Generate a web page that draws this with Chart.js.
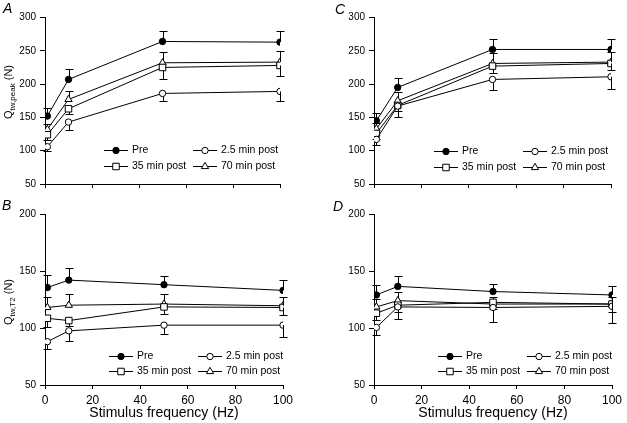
<!DOCTYPE html>
<html><head><meta charset="utf-8">
<script src="https://cdn.jsdelivr.net/npm/chart.js@4"></script>
<style>
html,body{margin:0;padding:0;background:#fff;}
#wrap{position:relative;width:627px;height:423px;overflow:hidden;background:#fff;}
.p{position:absolute;}
</style></head><body>
<div id="wrap">
<div class="p" style="left:0;top:0;"><canvas id="cA" width="313" height="200"></canvas></div>
<div class="p" style="left:313px;top:0;"><canvas id="cC" width="314" height="200"></canvas></div>
<div class="p" style="left:0;top:200px;"><canvas id="cB" width="313" height="223"></canvas></div>
<div class="p" style="left:313px;top:200px;"><canvas id="cD" width="314" height="223"></canvas></div>
</div>
<script>
// ---------- data ----------
const frequencies = [1, 10, 50, 100];
const seriesNames = ['Pre', '2.5 min post', '35 min post', '70 min post'];
const xTicks = [0, 20, 40, 60, 80, 100];
const yTicksPeak = [50, 100, 150, 200, 250, 300];
const yTicksT2 = [50, 100, 150, 200];
const xTitle = 'Stimulus frequency (Hz)';

// Panel A (peak)
const preA = [152, 207, 264, 263];
const post25A = [106, 143, 186, 189];
const post35A = [124, 163, 225, 228];
const post70A = [132, 177, 232, 233];
const errPreA = [12, 15, 16, 17];
const errPost25A = [7, 12, 12, 14];
const errPost35A = [8, 8, 17, 16];
const errPost70A = [8, 12, 16, 17];

// Panel B (T2)
const preB = [135.5, 142, 138, 133];
const post25B = [88, 97.5, 102.5, 102.5];
const post35B = [108.5, 106.5, 118.5, 118];
const post70B = [118, 120, 121, 119.5];
const errPreB = [11, 11, 8, 9];
const errPost25B = [6, 9, 8, 10];
const errPost35B = [7.5, 5, 6, 7];
const errPost70B = [9, 10, 9, 8];

// Panel C (peak)
const preC = [145, 195, 252, 252];
const post25C = [117, 167, 207, 211];
const post35C = [126, 168, 227, 231];
const post70C = [133, 175, 231, 233];
const errPreC = [11, 14, 16, 16];
const errPost25C = [9, 16, 16, 18];
const errPost35C = [8, 8, 10, 10];
const errPost70C = [8, 13, 15, 15];

// Panel D (T2)
const preD = [129, 136.5, 132, 129];
const post25D = [100.5, 118.5, 118, 119];
const post35D = [113, 120, 122.5, 121];
const post70D = [118.5, 124, 121, 121];
const errPreD = [9, 9, 7, 8];
const errPost25D = [7, 11, 13, 15];
const errPost35D = [6, 6, 6, 7];
const errPost70D = [7, 8, 6, 6];

// ---------- styles ----------
const FONT = '"Liberation Sans", Arial, Helvetica, sans-serif';
const markerStyles = [
  {pointStyle: 'circle', radius: 3.2, fill: '#000'},
  {pointStyle: 'circle', radius: 3.2, fill: '#fff'},
  {pointStyle: 'rect', radius: 4.6, fill: '#fff'},
  {pointStyle: 'triangle', radius: 4.2, fill: '#fff'}
];
const errDirs = [1, -1, -1, 1];

function makeDatasets(values, errs) {
  return values.map((vals, i) => ({
    label: seriesNames[i],
    data: vals.map((v, j) => ({x: frequencies[j], y: v})),
    errors: errs[i],
    errDir: errDirs[i],
    borderColor: '#000',
    borderWidth: 1,
    backgroundColor: markerStyles[i].fill,
    pointStyle: markerStyles[i].pointStyle,
    pointRadius: markerStyles[i].radius,
    pointBorderWidth: 1,
    pointBorderColor: '#000',
    pointBackgroundColor: markerStyles[i].fill,
    pointHoverRadius: markerStyles[i].radius,
    fill: false,
    tension: 0
  }));
}

const errorBarPlugin = {
  id: 'errbars',
  beforeDatasetsDraw(chart) {
    const ctx = chart.ctx, ys = chart.scales.y;
    ctx.save();
    ctx.strokeStyle = '#000';
    ctx.lineWidth = 1;
    chart.data.datasets.forEach((ds, i) => {
      const meta = chart.getDatasetMeta(i);
      meta.data.forEach((pt, j) => {
        const e = ds.errors && ds.errors[j];
        if (!e) return;
        const yEnd = ys.getPixelForValue(ds.data[j].y + ds.errDir * e);
        const x = Math.round(pt.x) + 0.5;
        const ye = Math.round(yEnd) + 0.5;
        ctx.beginPath();
        ctx.moveTo(x, pt.y);
        ctx.lineTo(x, ye);
        ctx.moveTo(x - 4, ye);
        ctx.lineTo(x + 4, ye);
        ctx.stroke();
      });
    });
    ctx.restore();
  }
};

const decorPlugin = {
  id: 'decor',
  afterDraw(chart) {
    const o = chart.options.plugins.decor;
    const ctx = chart.ctx, a = chart.chartArea;
    ctx.save();
    // panel letter
    ctx.fillStyle = '#000';
    ctx.font = 'italic 14px ' + FONT;
    ctx.textBaseline = 'alphabetic';
    ctx.textAlign = 'left';
    ctx.fillText(o.letter, o.letterX, o.letterY);
    // legend
    chart.data.datasets.forEach((ds, i) => {
      const col = i % 2, row = Math.floor(i / 2);
      const x0 = a.left + o.legCols[col];
      const y = Math.round(a.bottom - o.legRows[row]) + 0.5;
      ctx.strokeStyle = '#000';
      ctx.lineWidth = 1;
      ctx.beginPath();
      ctx.moveTo(x0, y);
      ctx.lineTo(x0 + 24, y);
      ctx.stroke();
      ctx.fillStyle = markerStyles[i].fill;
      Chart.helpers.drawPoint(ctx, {pointStyle: markerStyles[i].pointStyle, radius: markerStyles[i].radius, borderWidth: 1, rotation: 0}, x0 + 12, y);
      ctx.fillStyle = '#000';
      ctx.font = '10.5px ' + FONT;
      ctx.textBaseline = 'middle';
      ctx.fillText(ds.label, x0 + 28, y);
    });
    // y title with subscript
    if (o.yTitle) {
      ctx.translate(o.yTitleX, o.yTitleY);
      ctx.rotate(-Math.PI / 2);
      ctx.textBaseline = 'alphabetic';
      ctx.fillStyle = '#000';
      const big = '11px ' + FONT, small = '8px ' + FONT;
      ctx.font = big; const w1 = ctx.measureText('Q').width;
      ctx.font = small; const w2 = ctx.measureText(o.yTitle[0]).width;
      ctx.font = big; const w3 = ctx.measureText(' (N)').width;
      let x = -(w1 + w2 + w3) / 2;
      ctx.font = big; ctx.fillText('Q', x, 0); x += w1;
      ctx.font = small; ctx.fillText(o.yTitle[0], x, 2.5); x += w2;
      ctx.font = big; ctx.fillText(' (N)', x, 0);
    }
    ctx.restore();
  }
};

function makePanel(id, cfg) {
  const cv = document.getElementById(id);
  const W = cv.width, H = cv.height;
  return new Chart(cv, {
    type: 'line',
    data: {datasets: makeDatasets(cfg.values, cfg.errs)},
    plugins: [errorBarPlugin, decorPlugin],
    options: {
      responsive: false,
      animation: false,
      events: [],
      layout: {padding: {left: 0, top: cfg.area.top, right: W - cfg.area.right, bottom: 0}},
      plugins: {
        legend: {display: false},
        tooltip: {enabled: false},
        decor: cfg.decor
      },
      scales: {
        x: {
          type: 'linear', min: 0, max: 100,
          afterBuildTicks: s => { s.ticks = xTicks.map(v => ({value: v})); },
          afterFit: s => { s.height = H - cfg.area.bottom; },
          grid: {drawOnChartArea: false, drawTicks: true, tickLength: 4, color: '#000', lineWidth: 1},
          border: {display: true, color: '#000', width: 1},
          ticks: {display: cfg.showX, color: '#000', font: {size: 12, family: FONT}, padding: 4, maxRotation: 0},
          title: {display: cfg.showX, text: xTitle, color: '#000', font: {size: 14, family: FONT}, padding: {top: 0, bottom: 1}}
        },
        y: {
          type: 'linear', min: cfg.yTicks[0], max: cfg.yTicks[cfg.yTicks.length - 1],
          afterBuildTicks: s => { s.ticks = cfg.yTicks.map(v => ({value: v})); },
          afterFit: s => { s.width = cfg.area.left; },
          grid: {drawOnChartArea: false, drawTicks: true, tickLength: 5, color: '#000', lineWidth: 1},
          border: {display: true, color: '#000', width: 1},
          ticks: {color: '#000', font: {size: 10, family: FONT}, padding: 4}
        }
      }
    }
  });
}

makePanel('cA', {
  values: [preA, post25A, post35A, post70A],
  errs: [errPreA, errPost25A, errPost35A, errPost70A],
  yTicks: yTicksPeak, showX: false,
  area: {left: 45, right: 280, top: 17.5, bottom: 184},
  decor: {letter: 'A', letterX: 3, letterY: 13, legCols: [59, 148], legRows: [34, 18], yTitle: ['tw,peak'], yTitleX: 12, yTitleY: 92}
});
makePanel('cC', {
  values: [preC, post25C, post35C, post70C],
  errs: [errPreC, errPost25C, errPost35C, errPost70C],
  yTicks: yTicksPeak, showX: false,
  area: {left: 61, right: 298, top: 17.5, bottom: 184},
  decor: {letter: 'C', letterX: 22, letterY: 14, legCols: [60, 149], legRows: [33.5, 17.5], yTitle: null}
});
makePanel('cB', {
  values: [preB, post25B, post35B, post70B],
  errs: [errPreB, errPost25B, errPost35B, errPost70B],
  yTicks: yTicksT2, showX: true,
  area: {left: 45, right: 283, top: 14, bottom: 185},
  decor: {letter: 'B', letterX: 2, letterY: 10, legCols: [64, 153], legRows: [29, 14], yTitle: ['tw,T2'], yTitleX: 12, yTitleY: 102}
});
makePanel('cD', {
  values: [preD, post25D, post35D, post70D],
  errs: [errPreD, errPost25D, errPost35D, errPost70D],
  yTicks: yTicksT2, showX: true,
  area: {left: 61, right: 299, top: 14, bottom: 185},
  decor: {letter: 'D', letterX: 20, letterY: 11, legCols: [64, 153], legRows: [29, 14], yTitle: null}
});
</script>
</body></html>
